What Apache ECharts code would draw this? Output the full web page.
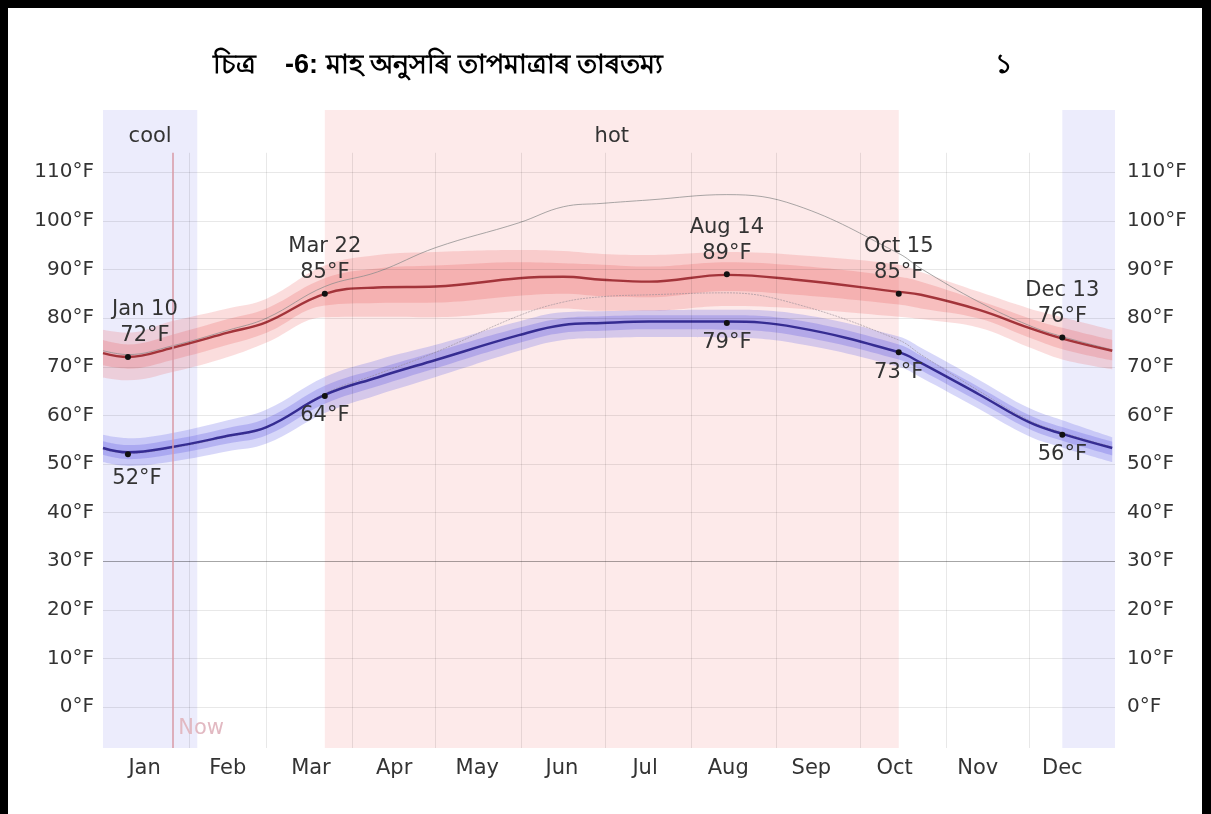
<!DOCTYPE html>
<html>
<head>
<meta charset="utf-8">
<script src="https://cdn.jsdelivr.net/npm/echarts@6/dist/echarts.min.js"></script>
<style>
html, body { margin: 0; padding: 0; background: #fff; }
#chart { position: absolute; left: 0; top: 0; width: 1211px; height: 814px; }
#frame {
  position: absolute; left: 0; top: 0; width: 1211px; height: 814px;
  box-sizing: border-box; pointer-events: none;
  border-left: 8px solid #000; border-top: 8px solid #000; border-right: 9px solid #000;
}
</style>
</head>
<body>
<div id="chart"></div>
<div id="frame"></div>
<script>
// sample dates (one year) and daily temperatures in °F
const DATES = ['2023-01-01', '2023-01-10', '2023-01-26', '2023-02-15', '2023-03-01', '2023-03-22', '2023-04-10',
  '2023-05-01', '2023-05-31', '2023-06-16', '2023-06-30', '2023-07-17', '2023-08-14', '2023-09-08',
  '2023-10-15', '2023-10-23', '2023-11-13', '2023-12-01', '2023-12-13', '2023-12-31']

// daily high
const HIGH_MED = [72.8, 72, 73.9, 77, 79.2, 85, 86.3, 86.5, 88.2, 88.5, 87.9, 87.5, 88.9, 87.9, 85.4, 84.8, 81.7, 78, 75.8, 73.3]
const HIGH_P10 = [67.8, 67.2, 68.9, 72, 75, 80.2, 80.3, 80.2, 81.5, 82, 81.5, 81.5, 82.5, 82, 80.3, 79.8, 78, 74, 71.5, 69.5]
const HIGH_P25 = [70.3, 69.6, 71.4, 74.5, 77, 82.6, 83.1, 83.2, 84.6, 85, 84.5, 84.3, 85.6, 84.8, 82.8, 82, 79.9, 76, 73.6, 71.3]
const HIGH_P75 = [75.5, 74.6, 76.6, 79.8, 82, 88.2, 90.2, 90.8, 91.5, 91.3, 91, 90.6, 91.5, 90.8, 88.5, 87.5, 83.6, 80, 78, 75.5]
const HIGH_P90 = [77.6, 77, 79.4, 82, 84, 90.8, 93, 93.6, 94, 93.8, 93.2, 93, 93.6, 93, 91, 89.5, 85.4, 82, 80.2, 77.6]

// daily low
const LOW_MED = [53.3, 52.4, 53.5, 55.8, 57.6, 64.2, 67.8, 71.4, 76.5, 78.6, 79, 79.3, 79.3, 78.1, 73, 70.8, 64.3, 58.6, 56.2, 53.3]
const LOW_P10 = [50.4, 49.6, 50.5, 52.6, 54.2, 60.5, 64.2, 67.9, 73.3, 75.5, 75.9, 76.1, 76, 74.8, 70, 67.8, 61.3, 55.7, 53.4, 50.4]
const LOW_P25 = [51.9, 51, 52, 54.2, 55.9, 62.4, 66, 69.7, 74.9, 77, 77.4, 77.7, 77.6, 76.4, 71.5, 69.3, 62.8, 57.2, 54.8, 51.8]
const LOW_P75 = [54.7, 53.9, 55, 57.4, 59.4, 66.1, 69.6, 73.1, 78, 80, 80.4, 80.6, 80.6, 79.6, 74.6, 72.3, 65.8, 60.1, 57.6, 54.6]
const LOW_P90 = [56, 55.3, 56.4, 59, 61.2, 67.9, 71.4, 74.5, 79.3, 81.2, 81.4, 81.6, 81.7, 80.9, 76.2, 73.9, 67.3, 61.5, 59, 55.5]

// perceived (feels like) high / low
const FEEL_HIGH = [73.3, 72.5, 74.3, 77.5, 80, 86.5, 89.5, 94.5, 99.6, 102.9, 103.6, 104.3, 105.4, 103.2, 93.3, 90.2, 83.3, 78.5, 76.2, 73.5]
const FEEL_LOW = [53, 52.2, 53.3, 55.6, 57.5, 64.5, 68.5, 73, 80.5, 83.3, 84.4, 84.8, 85.2, 82.9, 75.5, 72.5, 65, 59, 56.5, 53.5]

// annotated days
const MARK_DATES = ['2023-01-10', '2023-03-22', '2023-08-14', '2023-10-15', '2023-12-13']
const MARK_NAMES = ['Jan 10', 'Mar 22', 'Aug 14', 'Oct 15', 'Dec 13']
const MARK_HIGH = [72, 85, 89, 85, 76]
const MARK_LOW = [52, 64, 79, 73, 56]

// month labels sit at these day-of-year positions
const MONTHS = ['Jan', 'Feb', 'Mar', 'Apr', 'May', 'Jun', 'Jul', 'Aug', 'Sep', 'Oct', 'Nov', 'Dec']
const MONTH_MID_DAYS = [15, 45, 75, 105, 135, 165.5, 195.5, 225.5, 255.5, 285.5, 315.5, 346]
const MONTH_STARTS = ['2023-02-01', '2023-03-01', '2023-04-01', '2023-05-01', '2023-06-01', '2023-07-01',
  '2023-08-01', '2023-09-01', '2023-10-01', '2023-11-01', '2023-12-01']
const Y_TICKS = [0, 10, 20, 30, 40, 50, 60, 70, 80, 90, 100, 110]
const FREEZING = 30
const NOW_DATE = '2023-01-26'
const COOL_SPANS = [['2023-01-01', '2023-02-04'], ['2023-12-13', '2024-01-01']]
const HOT_SPAN = ['2023-03-22', '2023-10-15']

const Y_MIN = -8.4
const Y_MAX = 122.8
const GRID_TOP_VAL = 114
const FONT = 'DejaVu Sans'
const TEXT = '#333'

const chart = echarts.init(document.getElementById('chart'))

function pairs(vals) {
  return DATES.map((d, i) => [d, vals[i]])
}
function diff(upper, lower) {
  return DATES.map((d, i) => [d, +(upper[i] - lower[i]).toFixed(2)])
}
// band = transparent lower line + stacked area of (upper - lower)
function band(stack, lower, upper, color) {
  return [
    {
      type: 'line', stack: stack, data: pairs(lower), smooth: 0.4, symbol: 'none',
      lineStyle: { opacity: 0 }, silent: true, z: 2
    },
    {
      type: 'line', stack: stack, data: diff(upper, lower), smooth: 0.4, symbol: 'none',
      lineStyle: { opacity: 0 }, areaStyle: { color: color, opacity: 1 }, silent: true, z: 2
    }
  ]
}

const yAxisBase = {
  type: 'value',
  min: Y_MIN,
  max: Y_MAX,
  axisLine: { show: false },
  axisTick: { show: false },
  splitLine: { show: false },
  axisLabel: {
    customValues: Y_TICKS,
    formatter: '{value}°F',
    color: TEXT,
    fontSize: 20,
    fontFamily: FONT
  }
}

const markLabel = { color: TEXT, fontSize: 21, lineHeight: 26, fontFamily: FONT, opacity: 1 }

const highMarks = MARK_DATES.map((d, i) => ({
  value: [d, MARK_HIGH[i]],
  label: Object.assign({}, markLabel, {
    show: true,
    position: 'top',
    distance: 5,
    offset: i === 0 ? [17, 0] : [0, 0],
    formatter: MARK_NAMES[i] + '\n' + MARK_HIGH[i] + '°F'
  })
}))
const lowMarks = MARK_DATES.map((d, i) => ({
  value: [d, MARK_LOW[i]],
  label: Object.assign({}, markLabel, {
    show: true,
    position: 'bottom',
    distance: 4,
    offset: i === 0 ? [9, 4] : [0, 0],
    formatter: MARK_LOW[i] + '°F'
  })
}))

const titleStyle = { fontSize: 27, fontWeight: 'bold', color: '#000' }

const option = {
  animation: false,
  backgroundColor: '#fff',
  title: [
    { text: 'চিত্ৰ', left: 208, top: 47, textStyle: titleStyle },
    { text: '-6: মাহ অনুসৰি তাপমাত্ৰাৰ তাৰতম্য', left: 280, top: 47, textStyle: titleStyle },
    { text: '১', left: 990, top: 47, textStyle: titleStyle }
  ],
  grid: { left: 103, right: 96, top: 110, bottom: 66 },
  xAxis: [
    {
      type: 'time',
      min: '2023-01-01',
      max: '2024-01-01',
      axisLine: { show: false },
      axisTick: { show: false },
      splitLine: { show: false },
      axisLabel: { show: false }
    },
    {
      // day-of-year axis only used for the month labels
      type: 'value',
      min: 0,
      max: 365,
      position: 'bottom',
      axisLine: { show: false },
      axisTick: { show: false },
      splitLine: { show: false },
      axisLabel: {
        show: true,
        customValues: MONTH_MID_DAYS,
        formatter: v => MONTHS[MONTH_MID_DAYS.indexOf(v)] || '',
        color: TEXT,
        fontSize: 21,
        fontFamily: FONT,
        margin: 10
      }
    }
  ],
  yAxis: [
    Object.assign({}, yAxisBase, { position: 'left', axisLabel: Object.assign({}, yAxisBase.axisLabel, { margin: 9 }) }),
    Object.assign({}, yAxisBase, { position: 'right', axisLabel: Object.assign({}, yAxisBase.axisLabel, { margin: 12 }) })
  ],
  series: [
    // season backgrounds
    {
      type: 'line', data: [], z: 0, silent: true,
      markArea: {
        silent: true,
        label: { position: 'insideTop', distance: 16, color: TEXT, fontSize: 21, fontFamily: FONT },
        data: [
          [{ xAxis: COOL_SPANS[0][0], name: 'cool', itemStyle: { color: '#ececfc' } }, { xAxis: COOL_SPANS[0][1] }],
          [{ xAxis: HOT_SPAN[0], name: 'hot', itemStyle: { color: '#fdeaea' } }, { xAxis: HOT_SPAN[1] }],
          [{ xAxis: COOL_SPANS[1][0], name: '', itemStyle: { color: '#ececfc' } }, { xAxis: COOL_SPANS[1][1] }]
        ]
      }
    },
    // grid lines
    {
      type: 'line', data: [], z: 1, silent: true,
      markLine: {
        silent: true,
        symbol: 'none',
        label: { show: false },
        lineStyle: { color: 'rgba(0,0,0,0.09)', width: 1, type: 'solid' },
        data: Y_TICKS.filter(v => v !== FREEZING).map(v => ({ yAxis: v }))
          .concat([{ yAxis: FREEZING, lineStyle: { color: 'rgba(0,0,0,0.35)', width: 1 } }])
          .concat(MONTH_STARTS.map(d => [{ coord: [d, Y_MIN] }, { coord: [d, GRID_TOP_VAL] }]))
      }
    },
    ...band('hOuter', HIGH_P10, HIGH_P90, 'rgba(238,100,100,0.22)'),
    ...band('hInner', HIGH_P25, HIGH_P75, 'rgba(232,80,80,0.22)'),
    ...band('lOuter', LOW_P10, LOW_P90, 'rgba(110,110,235,0.28)'),
    ...band('lInner', LOW_P25, LOW_P75, 'rgba(95,85,225,0.28)'),
    {
      type: 'line', data: pairs(FEEL_HIGH), smooth: 0.4, symbol: 'none', silent: true, z: 3,
      lineStyle: { color: 'rgba(140,140,140,0.75)', width: 1 }
    },
    {
      type: 'line', data: pairs(FEEL_LOW), smooth: 0.4, symbol: 'none', silent: true, z: 3,
      lineStyle: { color: 'rgba(150,140,150,0.6)', width: 1, type: [2, 1] }
    },
    {
      type: 'line', data: pairs(HIGH_MED), smooth: 0.4, symbol: 'none', silent: true, z: 4,
      lineStyle: { color: '#a3343a', width: 2.4 }
    },
    {
      type: 'line', data: pairs(LOW_MED), smooth: 0.4, symbol: 'none', silent: true, z: 4,
      lineStyle: { color: '#352c92', width: 2.5 }
    },
    // now marker
    {
      type: 'line', data: [], z: 5, silent: true,
      markLine: {
        silent: true,
        symbol: 'none',
        label: { show: false },
        lineStyle: { color: '#d99aa6', width: 1.5, type: 'solid' },
        data: [[{ coord: [NOW_DATE, Y_MIN] }, { coord: [NOW_DATE, GRID_TOP_VAL] }]]
      },
      markPoint: {
        silent: true,
        symbol: 'circle',
        symbolSize: 0,
        label: { show: true, position: 'right', distance: 6, color: '#e2b9c2', fontSize: 21, fontFamily: FONT },
        data: [{ coord: [NOW_DATE, -4.5], name: 'Now', label: { formatter: 'Now' } }]
      }
    },
    // annotated points
    {
      type: 'scatter', data: highMarks, symbolSize: 6, z: 6, silent: true,
      itemStyle: { color: '#111', opacity: 1 }
    },
    {
      type: 'scatter', data: lowMarks, symbolSize: 6, z: 6, silent: true,
      itemStyle: { color: '#111', opacity: 1 }
    }
  ]
}

chart.setOption(option)
</script>
</body>
</html>
